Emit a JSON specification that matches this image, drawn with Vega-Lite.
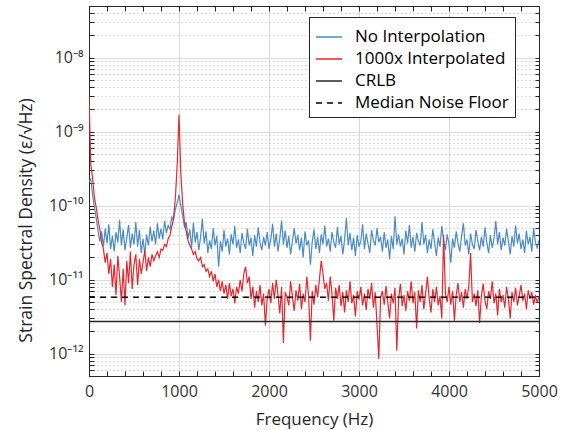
{
  "$schema": "https://vega.github.io/schema/vega-lite/v6.json",
  "width": 450,
  "height": 370,
  "autosize": {"type": "none"},
  "padding": {"left": 89, "top": 6, "right": 26, "bottom": 54},
  "background": "white",
  "config": {
    "font": "Open Sans",
    "view": {"stroke": "#262626", "strokeWidth": 1},
    "axis": {
      "domainColor": "#262626",
      "tickColor": "#262626",
      "labelColor": "#333333",
      "titleColor": "#262626",
      "labelFont": "Open Sans",
      "titleFont": "Open Sans",
      "labelFontSize": 16,
      "titleFontSize": 17,
      "titleFontWeight": "normal"
    },
    "legend": {"labelFont": "Open Sans"}
  },
  "resolve": {"axis": {"x": "independent", "y": "independent"}},
  "layer": [
    {
      "data": {
        "values": [
{"f":0,"a":2.1e-10,"b":3.0e-9},{"f":20,"a":2.3e-10,"b":3.6e-10},{"f":40,"a":1.4e-10,"b":2.4e-10},{"f":60,"a":9.5e-11,"b":1.3e-10},{"f":80,"a":6.8e-11,"b":9.5e-11},
{"f":100,"a":4.6e-11,"b":6.5e-11},{"f":120,"a":3.3e-11,"b":4.8e-11},{"f":140,"a":4.5e-11,"b":3.2e-11},{"f":160,"a":2.8e-11,"b":2.6e-11},{"f":180,"a":4.9e-11,"b":1.7e-11},
{"f":200,"a":3.1e-11,"b":2.3e-11},{"f":220,"a":5.6e-11,"b":1.2e-11},{"f":240,"a":2.6e-11,"b":1.9e-11},{"f":260,"a":3.9e-11,"b":8.0e-12},{"f":280,"a":2.4e-11,"b":1.6e-11},
{"f":300,"a":4.4e-11,"b":6.2e-12},{"f":320,"a":3.2e-11,"b":2.1e-11},{"f":340,"a":6.4e-11,"b":1.1e-11},{"f":360,"a":2.9e-11,"b":5.0e-12},{"f":380,"a":4.8e-11,"b":1.4e-11},
{"f":400,"a":2.5e-11,"b":4.5e-12},{"f":420,"a":3.7e-11,"b":1.8e-11},{"f":440,"a":5.5e-11,"b":9.0e-12},{"f":460,"a":2.7e-11,"b":2.4e-11},{"f":480,"a":4.2e-11,"b":7.5e-12},
{"f":500,"a":3.0e-11,"b":1.6e-11},{"f":520,"a":6.0e-11,"b":2.2e-11},{"f":540,"a":2.8e-11,"b":8.5e-12},{"f":560,"a":4.7e-11,"b":1.9e-11},{"f":580,"a":2.3e-11,"b":1.2e-11},
{"f":600,"a":3.6e-11,"b":1.7e-11},{"f":620,"a":2.2e-11,"b":2.5e-11},{"f":640,"a":4.1e-11,"b":1.3e-11},{"f":660,"a":2.9e-11,"b":2.0e-11},{"f":680,"a":5.2e-11,"b":1.5e-11},
{"f":700,"a":3.3e-11,"b":2.2e-11},{"f":720,"a":4.6e-11,"b":1.8e-11},{"f":740,"a":3.0e-11,"b":2.1e-11},{"f":760,"a":5.8e-11,"b":2.4e-11},{"f":780,"a":3.6e-11,"b":2.0e-11},
{"f":800,"a":4.9e-11,"b":2.6e-11},{"f":820,"a":3.5e-11,"b":2.5e-11},{"f":840,"a":6.2e-11,"b":3.0e-11},{"f":860,"a":4.3e-11,"b":2.8e-11},{"f":880,"a":5.4e-11,"b":3.6e-11},
{"f":900,"a":4.8e-11,"b":4.0e-11},{"f":920,"a":7.0e-11,"b":5.2e-11},{"f":940,"a":6.5e-11,"b":6.8e-11},{"f":960,"a":9.0e-11,"b":1.3e-10},{"f":980,"a":1.1e-10,"b":3.6e-10},
{"f":1000,"a":1.4e-10,"b":1.7e-9},{"f":1020,"a":1.0e-10,"b":2.8e-10},{"f":1040,"a":7.5e-11,"b":1.1e-10},{"f":1060,"a":5.2e-11,"b":6.0e-11},{"f":1080,"a":6.0e-11,"b":4.5e-11},
{"f":1100,"a":3.6e-11,"b":3.4e-11},{"f":1120,"a":4.8e-11,"b":2.9e-11},{"f":1140,"a":2.7e-11,"b":2.6e-11},{"f":1160,"a":5.9e-11,"b":2.2e-11},{"f":1180,"a":3.2e-11,"b":2.4e-11},
{"f":1200,"a":4.4e-11,"b":1.9e-11},{"f":1220,"a":2.5e-11,"b":1.8e-11},{"f":1240,"a":3.8e-11,"b":2.0e-11},{"f":1260,"a":6.6e-11,"b":1.5e-11},{"f":1280,"a":3.1e-11,"b":1.6e-11},
{"f":1300,"a":4.5e-11,"b":1.3e-11},{"f":1320,"a":2.3e-11,"b":1.4e-11},{"f":1340,"a":3.4e-11,"b":1.1e-11},{"f":1360,"a":2.6e-11,"b":1.3e-11},{"f":1380,"a":5.0e-11,"b":9.5e-12},
{"f":1400,"a":2.9e-11,"b":1.2e-11},{"f":1420,"a":3.9e-11,"b":8.0e-12},{"f":1440,"a":1.5e-11,"b":1.0e-11},{"f":1460,"a":3.3e-11,"b":7.0e-12},{"f":1480,"a":2.4e-11,"b":9.5e-12},
{"f":1500,"a":4.7e-11,"b":6.5e-12},{"f":1520,"a":2.8e-11,"b":8.5e-12},{"f":1540,"a":3.6e-11,"b":5.5e-12},{"f":1560,"a":2.2e-11,"b":9.0e-12},{"f":1580,"a":4.1e-11,"b":6.0e-12},
{"f":1600,"a":3.0e-11,"b":7.5e-12},{"f":1620,"a":5.3e-11,"b":4.8e-12},{"f":1640,"a":2.7e-11,"b":8.0e-12},{"f":1660,"a":3.5e-11,"b":6.5e-12},{"f":1680,"a":2.3e-11,"b":1.0e-11},
{"f":1700,"a":4.3e-11,"b":7.0e-12},{"f":1720,"a":3.1e-11,"b":1.2e-11},{"f":1740,"a":2.6e-11,"b":1.5e-11},{"f":1760,"a":4.9e-11,"b":9.0e-12},{"f":1780,"a":2.9e-11,"b":1.1e-11},
{"f":1800,"a":3.7e-11,"b":5.5e-12},{"f":1820,"a":2.1e-11,"b":8.0e-12},{"f":1840,"a":4.0e-11,"b":4.2e-12},{"f":1860,"a":2.8e-11,"b":7.0e-12},{"f":1880,"a":5.1e-11,"b":5.0e-12},
{"f":1900,"a":3.2e-11,"b":8.5e-12},{"f":1920,"a":2.5e-11,"b":4.5e-12},{"f":1940,"a":3.8e-11,"b":6.5e-12},{"f":1960,"a":2.9e-11,"b":2.4e-12},{"f":1980,"a":4.4e-11,"b":5.5e-12},
{"f":2000,"a":2.6e-11,"b":7.5e-12},{"f":2020,"a":3.5e-11,"b":4.8e-12},{"f":2040,"a":5.7e-11,"b":9.0e-12},{"f":2060,"a":2.8e-11,"b":5.5e-12},{"f":2080,"a":4.2e-11,"b":1.0e-11},
{"f":2100,"a":2.4e-11,"b":6.2e-12},{"f":2120,"a":3.6e-11,"b":3.5e-12},{"f":2140,"a":6.3e-11,"b":8.0e-12},{"f":2160,"a":3.0e-11,"b":1.4e-12},{"f":2180,"a":4.6e-11,"b":6.8e-12},
{"f":2200,"a":2.7e-11,"b":5.8e-12},{"f":2220,"a":3.9e-11,"b":4.5e-12},{"f":2240,"a":2.2e-11,"b":9.5e-12},{"f":2260,"a":3.3e-11,"b":6.0e-12},{"f":2280,"a":5.0e-11,"b":3.8e-12},
{"f":2300,"a":3.1e-11,"b":7.2e-12},{"f":2320,"a":4.0e-11,"b":5.2e-12},{"f":2340,"a":2.5e-11,"b":8.8e-12},{"f":2360,"a":3.7e-11,"b":4.0e-12},{"f":2380,"a":2.0e-11,"b":6.5e-12},
{"f":2400,"a":4.5e-11,"b":5.0e-12},{"f":2420,"a":2.9e-11,"b":1.1e-11},{"f":2440,"a":3.4e-11,"b":6.0e-12},{"f":2460,"a":1.6e-11,"b":1.5e-12},{"f":2480,"a":3.2e-11,"b":7.0e-12},
{"f":2500,"a":4.8e-11,"b":4.6e-12},{"f":2520,"a":2.6e-11,"b":8.5e-12},{"f":2540,"a":3.8e-11,"b":5.8e-12},{"f":2560,"a":2.3e-11,"b":1.0e-11},{"f":2580,"a":4.1e-11,"b":1.8e-11},
{"f":2600,"a":3.0e-11,"b":1.2e-11},{"f":2620,"a":5.4e-11,"b":7.5e-12},{"f":2640,"a":2.8e-11,"b":9.0e-12},{"f":2660,"a":3.6e-11,"b":5.2e-12},{"f":2680,"a":2.4e-11,"b":1.1e-11},
{"f":2700,"a":4.4e-11,"b":6.5e-12},{"f":2720,"a":3.2e-11,"b":2.8e-12},{"f":2740,"a":2.7e-11,"b":7.8e-12},{"f":2760,"a":5.2e-11,"b":5.5e-12},{"f":2780,"a":3.0e-11,"b":8.5e-12},
{"f":2800,"a":3.9e-11,"b":4.4e-12},{"f":2820,"a":2.2e-11,"b":6.8e-12},{"f":2840,"a":3.5e-11,"b":3.6e-12},{"f":2860,"a":6.8e-11,"b":7.2e-12},{"f":2880,"a":2.9e-11,"b":5.0e-12},
{"f":2900,"a":4.3e-11,"b":9.5e-12},{"f":2920,"a":2.5e-11,"b":4.8e-12},{"f":2940,"a":3.7e-11,"b":6.2e-12},{"f":2960,"a":2.1e-11,"b":3.2e-12},{"f":2980,"a":4.0e-11,"b":7.0e-12},
{"f":3000,"a":2.8e-11,"b":5.4e-12},{"f":3020,"a":3.3e-11,"b":8.0e-12},{"f":3040,"a":5.6e-11,"b":4.5e-12},{"f":3060,"a":2.6e-11,"b":6.5e-12},{"f":3080,"a":4.2e-11,"b":3.9e-12},
{"f":3100,"a":3.1e-11,"b":7.5e-12},{"f":3120,"a":2.3e-11,"b":5.5e-12},{"f":3140,"a":4.7e-11,"b":9.0e-12},{"f":3160,"a":3.4e-11,"b":4.2e-12},{"f":3180,"a":2.9e-11,"b":6.8e-12},
{"f":3200,"a":5.0e-11,"b":2.5e-12},{"f":3220,"a":3.2e-11,"b":8.5e-13},{"f":3240,"a":3.8e-11,"b":5.8e-12},{"f":3260,"a":2.4e-11,"b":7.0e-12},{"f":3280,"a":4.4e-11,"b":4.6e-12},
{"f":3300,"a":2.7e-11,"b":8.2e-12},{"f":3320,"a":3.5e-11,"b":5.0e-12},{"f":3340,"a":1.9e-11,"b":3.0e-12},{"f":3360,"a":3.9e-11,"b":6.5e-12},{"f":3380,"a":2.6e-11,"b":4.8e-12},
{"f":3400,"a":7.2e-11,"b":7.8e-12},{"f":3420,"a":3.0e-11,"b":1.1e-12},{"f":3440,"a":4.1e-11,"b":5.5e-12},{"f":3460,"a":2.8e-11,"b":8.8e-12},{"f":3480,"a":3.6e-11,"b":4.4e-12},
{"f":3500,"a":2.2e-11,"b":6.2e-12},{"f":3520,"a":4.6e-11,"b":3.8e-12},{"f":3540,"a":3.1e-11,"b":7.0e-12},{"f":3560,"a":5.5e-11,"b":5.2e-12},{"f":3580,"a":2.7e-11,"b":9.5e-12},
{"f":3600,"a":3.8e-11,"b":4.8e-12},{"f":3620,"a":2.4e-11,"b":6.8e-12},{"f":3640,"a":4.3e-11,"b":2.2e-12},{"f":3660,"a":3.3e-11,"b":7.2e-12},{"f":3680,"a":2.9e-11,"b":5.0e-12},
{"f":3700,"a":6.0e-11,"b":8.5e-12},{"f":3720,"a":3.0e-11,"b":4.0e-12},{"f":3740,"a":4.0e-11,"b":6.5e-12},{"f":3760,"a":2.3e-11,"b":1.1e-11},{"f":3780,"a":3.5e-11,"b":5.5e-12},
{"f":3800,"a":2.6e-11,"b":3.6e-12},{"f":3820,"a":4.8e-11,"b":7.5e-12},{"f":3840,"a":3.2e-11,"b":5.0e-12},{"f":3860,"a":2.1e-11,"b":8.0e-12},{"f":3880,"a":3.7e-11,"b":4.5e-12},
{"f":3900,"a":2.8e-11,"b":6.0e-12},{"f":3920,"a":5.3e-11,"b":3.0e-12},{"f":3940,"a":3.4e-11,"b":4.0e-11},{"f":3960,"a":2.5e-11,"b":6.5e-12},{"f":3980,"a":4.1e-11,"b":5.0e-12},
{"f":4000,"a":3.0e-11,"b":8.0e-12},{"f":4020,"a":1.7e-11,"b":4.6e-12},{"f":4040,"a":3.6e-11,"b":7.0e-12},{"f":4060,"a":2.7e-11,"b":2.8e-12},{"f":4080,"a":4.5e-11,"b":6.2e-12},
{"f":4100,"a":3.1e-11,"b":9.0e-12},{"f":4120,"a":2.4e-11,"b":5.0e-12},{"f":4140,"a":3.9e-11,"b":6.8e-12},{"f":4160,"a":5.8e-11,"b":4.2e-12},{"f":4180,"a":2.9e-11,"b":7.5e-12},
{"f":4200,"a":3.5e-11,"b":5.5e-12},{"f":4220,"a":2.2e-11,"b":8.2e-12},{"f":4240,"a":4.2e-11,"b":2.3e-11},{"f":4260,"a":3.0e-11,"b":5.0e-12},{"f":4280,"a":2.6e-11,"b":6.5e-12},
{"f":4300,"a":4.7e-11,"b":4.4e-12},{"f":4320,"a":3.3e-11,"b":7.2e-12},{"f":4340,"a":2.5e-11,"b":2.6e-12},{"f":4360,"a":3.8e-11,"b":6.0e-12},{"f":4380,"a":2.8e-11,"b":8.8e-12},
{"f":4400,"a":5.1e-11,"b":5.2e-12},{"f":4420,"a":3.2e-11,"b":4.0e-12},{"f":4440,"a":2.3e-11,"b":7.0e-12},{"f":4460,"a":4.0e-11,"b":5.5e-12},{"f":4480,"a":2.7e-11,"b":9.5e-12},
{"f":4500,"a":3.6e-11,"b":4.8e-12},{"f":4520,"a":6.2e-11,"b":6.5e-12},{"f":4540,"a":3.0e-11,"b":3.3e-12},{"f":4560,"a":4.4e-11,"b":7.5e-12},{"f":4580,"a":2.5e-11,"b":5.0e-12},
{"f":4600,"a":3.7e-11,"b":6.2e-12},{"f":4620,"a":2.9e-11,"b":4.2e-12},{"f":4640,"a":4.9e-11,"b":8.0e-12},{"f":4660,"a":3.3e-11,"b":5.5e-12},{"f":4680,"a":2.2e-11,"b":3.0e-12},
{"f":4700,"a":3.9e-11,"b":6.8e-12},{"f":4720,"a":2.8e-11,"b":5.0e-12},{"f":4740,"a":5.4e-11,"b":7.8e-12},{"f":4760,"a":3.1e-11,"b":4.5e-12},{"f":4780,"a":4.2e-11,"b":6.0e-12},
{"f":4800,"a":2.6e-11,"b":8.5e-12},{"f":4820,"a":3.5e-11,"b":5.2e-12},{"f":4840,"a":2.3e-11,"b":6.5e-12},{"f":4860,"a":4.6e-11,"b":4.0e-12},{"f":4880,"a":3.0e-11,"b":7.2e-12},
{"f":4900,"a":3.8e-11,"b":5.5e-12},{"f":4920,"a":2.4e-11,"b":6.8e-12},{"f":4940,"a":5.0e-11,"b":4.6e-12},{"f":4960,"a":3.2e-11,"b":6.0e-12},{"f":4980,"a":2.7e-11,"b":5.0e-12},
{"f":5000,"a":3.4e-11,"b":5.8e-12}
        ]
      },
      "transform": [{"fold": ["a", "b"], "as": ["s", "v"]}],
      "mark": {"type": "line", "strokeWidth": 1.2, "clip": true},
      "encoding": {
        "x": {
          "field": "f", "type": "quantitative",
          "scale": {"domain": [0, 5000], "nice": false, "zero": false},
          "axis": {
            "orient": "bottom",
            "title": "Frequency (Hz)",
            "values": [0,200,400,600,800,1000,1200,1400,1600,1800,2000,2200,2400,2600,2800,3000,3200,3400,3600,3800,4000,4200,4400,4600,4800,5000],
            "labelExpr": "datum.value % 1000 == 0 ? format(datum.value, 'd') : ''",
            "tickSize": -5,
            "labelPadding": 12,
            "titlePadding": 12,
            "labelFlush": false,
            "labelOverlap": false,
            "gridColor": "#d9d9d9",
            "gridOpacity": {"condition": {"test": "datum.value % 1000 == 0", "value": 1}, "value": 0}
          }
        },
        "y": {
          "field": "v", "type": "quantitative",
          "scale": {"type": "log", "domain": [5e-13, 5e-8], "nice": false},
          "axis": {
            "orient": "left",
            "title": "Strain Spectral Density (ε/√Hz)",
            "titleFontSize": 17.5,
            "titleY": 214,
            "values": [6e-13,7e-13,8e-13,9e-13,1e-12,2e-12,3e-12,4e-12,5e-12,6e-12,7e-12,8e-12,9e-12,1e-11,2e-11,3e-11,4e-11,5e-11,6e-11,7e-11,8e-11,9e-11,1e-10,2e-10,3e-10,4e-10,5e-10,6e-10,7e-10,8e-10,9e-10,1e-9,2e-9,3e-9,4e-9,5e-9,6e-9,7e-9,8e-9,9e-9,1e-8,2e-8,3e-8,4e-8],
            "labelExpr": "datum.value == 1e-8 ? '10⁻⁸' : datum.value == 1e-9 ? '10⁻⁹' : datum.value == 1e-10 ? '10⁻¹⁰' : datum.value == 1e-11 ? '10⁻¹¹' : datum.value == 1e-12 ? '10⁻¹²' : ''",
            "labelOverlap": false,
            "labelFlush": false,
            "tickSize": -5,
            "labelPadding": 11,
            "titlePadding": 13,
            "gridColor": {"condition": {"test": "indexof([1e-12,1e-11,1e-10,1e-9,1e-8], datum.value) >= 0", "value": "#dcdcdc"}, "value": "#bdbdbd"},
            "gridDash": {"condition": {"test": "indexof([1e-12,1e-11,1e-10,1e-9,1e-8], datum.value) >= 0", "value": []}, "value": [1, 3]}
          }
        },
        "color": {
          "field": "s", "type": "nominal",
          "scale": {"domain": ["a", "b", "c", "d"], "range": ["#4a8bc6", "#e8262e", "#262626", "#000000"]},
          "legend": {
            "title": null,
            "orient": "none",
            "legendX": 220,
            "legendY": 11,
            "symbolType": "stroke",
            "symbolSize": 676,
            "symbolStrokeWidth": 1.3,
            "labelFontSize": 17,
            "labelColor": "#000000",
            "labelOffset": 12,
            "rowPadding": 0,
            "padding": 6,
            "fillColor": "white",
            "strokeColor": "#262626",
            "labelExpr": "datum.label == 'a' ? 'No Interpolation' : datum.label == 'b' ? '1000x Interpolated' : datum.label == 'c' ? 'CRLB' : 'Median Noise Floor'"
          }
        },
        "strokeDash": {
          "field": "s", "type": "nominal",
          "scale": {"domain": ["a", "b", "c", "d"], "range": [[1, 0], [1, 0], [1, 0], [6, 5]]},
          "legend": null
        }
      }
    },
    {
      "data": {
        "values": [
          {"s": "c", "f": 0, "v": 2.73e-12},
          {"s": "c", "f": 5000, "v": 2.73e-12},
          {"s": "d", "f": 0, "v": 5.8e-12},
          {"s": "d", "f": 5000, "v": 5.8e-12}
        ]
      },
      "mark": {"type": "line", "strokeWidth": 1.4},
      "encoding": {
        "x": {
          "field": "f", "type": "quantitative",
          "axis": {
            "orient": "top", "title": null, "labels": false, "grid": false,
            "values": [0,200,400,600,800,1000,1200,1400,1600,1800,2000,2200,2400,2600,2800,3000,3200,3400,3600,3800,4000,4200,4400,4600,4800,5000],
            "tickSize": -5
          }
        },
        "y": {
          "field": "v", "type": "quantitative",
          "axis": {
            "orient": "right", "title": null, "labels": false, "grid": false,
            "values": [6e-13,7e-13,8e-13,9e-13,1e-12,2e-12,3e-12,4e-12,5e-12,6e-12,7e-12,8e-12,9e-12,1e-11,2e-11,3e-11,4e-11,5e-11,6e-11,7e-11,8e-11,9e-11,1e-10,2e-10,3e-10,4e-10,5e-10,6e-10,7e-10,8e-10,9e-10,1e-9,2e-9,3e-9,4e-9,5e-9,6e-9,7e-9,8e-9,9e-9,1e-8,2e-8,3e-8,4e-8],
            "tickSize": -4
          }
        },
        "color": {"field": "s", "type": "nominal"},
        "strokeDash": {"field": "s", "type": "nominal"}
      }
    }
  ]
}
